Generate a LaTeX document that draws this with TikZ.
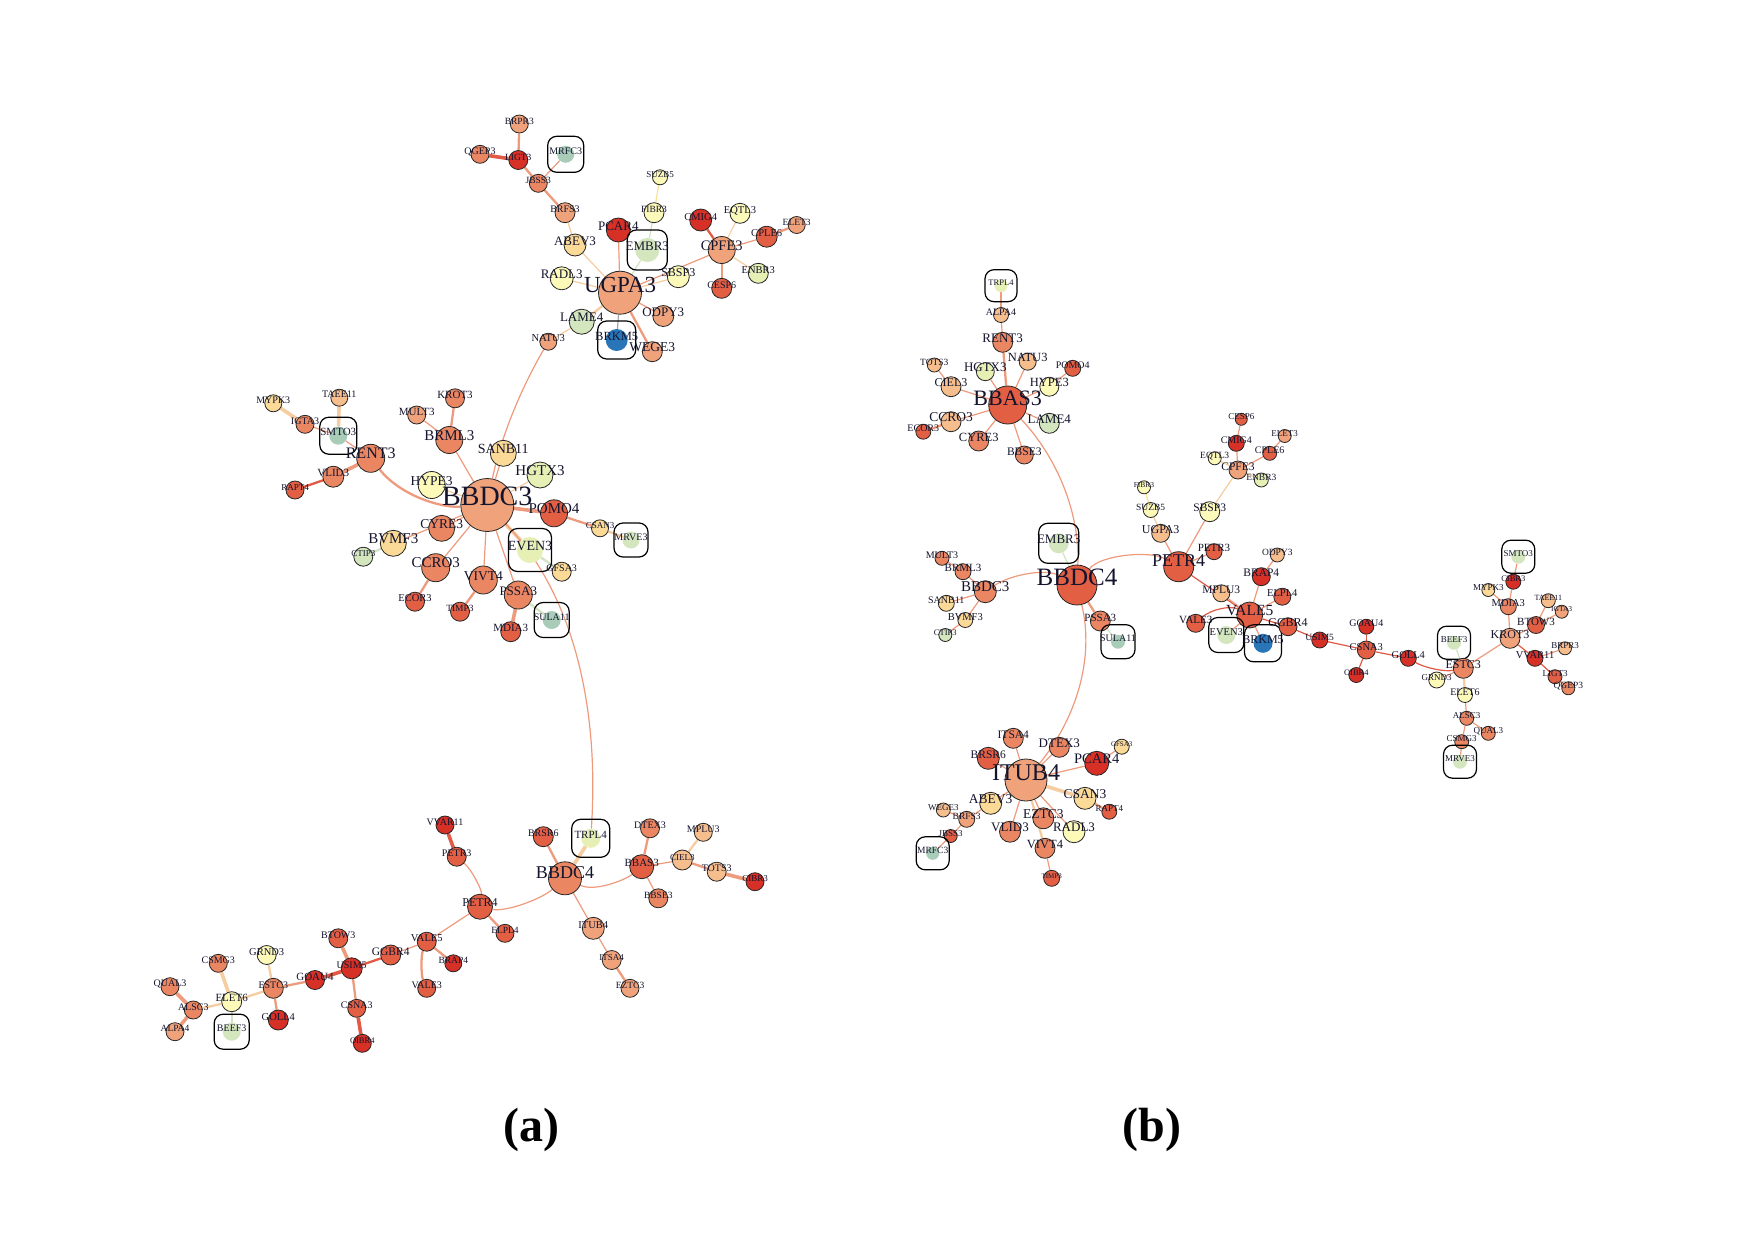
\documentclass[tikz,border=0pt]{standalone}
\usepackage{fontspec}
\setmainfont{Liberation Serif}
\pgfdeclarelayer{bg}\pgfdeclarelayer{fg}
\pgfsetlayers{bg,main,fg}
\definecolor{c1}{RGB}{215,48,39}
\definecolor{c2}{RGB}{227,95,68}
\definecolor{c3}{RGB}{234,135,98}
\definecolor{c4}{RGB}{240,163,122}
\definecolor{c5}{RGB}{245,190,140}
\definecolor{c6}{RGB}{250,218,150}
\definecolor{c7}{RGB}{253,249,185}
\definecolor{c8}{RGB}{230,240,180}
\definecolor{c9}{RGB}{212,230,190}
\definecolor{c10}{RGB}{168,204,184}
\definecolor{cb}{RGB}{40,118,184}
\definecolor{ec}{RGB}{238,155,125}
\definecolor{er}{RGB}{225,90,70}
\definecolor{el}{RGB}{246,205,160}
\definecolor{eg}{RGB}{210,228,195}
\definecolor{txt}{RGB}{20,20,45}
\tikzset{
 nc/.style={circle, draw=black!85, line width=0.8pt, inner sep=0pt},
 bc/.style={circle, inner sep=0pt},
 bxs/.style={rounded corners=9pt, draw=black, line width=1.2pt, inner sep=0pt},
 lab/.style={anchor=base, inner sep=0pt, text=txt, font=\fontsize{#1}{#1}\selectfont},
 e/.style={draw=ec, line width=1.2pt},
 w2/.style={line width=2.3pt},
 w3/.style={line width=3.6pt},
 captxt/.style={font=\fontsize{48}{50}\selectfont\bfseries, inner sep=0pt}
}
\newcommand\gnode[7]{%
 \node[nc, minimum size=2*#4pt, fill=#5] (#1) at (#2,#3) {};
 \begin{pgfonlayer}{fg}\node[lab=#7] (#1-t) at (#1.center) {#6};\end{pgfonlayer}}
\newcommand\gboxnode[8]{%
 \node[bc, minimum size=2*#4pt, fill=#5] (#1) at (#2,#3) {};
 \node[bxs, minimum size=#8pt] (#1-b) at (#2,#3) {};
 \begin{pgfonlayer}{fg}\node[lab=#7] (#1-t) at (#1.center) {#6};\end{pgfonlayer}}
\begin{document}
\begin{tikzpicture}[x=1pt,y=-1pt]
\begin{pgfonlayer}{bg}\fill[white] (0,0) rectangle (1754,1240);\end{pgfonlayer}
\useasboundingbox (0,0) rectangle (1754,1240);
% ================= (a) =================
\gnode{aBRPR3}{519.3}{124}{9}{c4}{BRPR3}{9.5}
\gnode{aQGEP3}{480}{154.3}{9}{c3}{QGEP3}{10}
\gnode{aLIGT3}{518.3}{160}{9.5}{c1}{LIGT3}{9.5}
\gboxnode{aMRFC3}{565.7}{154.3}{8.5}{c10}{MRFC3}{10}{36}
\gnode{aJBSS3}{538.3}{183.3}{9}{c3}{JBSS3}{9.5}
\gnode{aSUZB5}{660}{177.3}{7.5}{c7}{SUZB5}{9}
\gnode{aBRFS3}{565}{212.7}{10}{c4}{BRFS3}{10}
\gnode{aFIBR3}{654}{212.7}{10}{c7}{FIBR3}{9.5}
\gnode{aCMIG4}{700.7}{220}{11}{c1}{CMIG4}{10.5}
\gnode{aEQTL3}{740}{213.3}{10}{c7}{EQTL3}{10.5}
\gnode{aELET3}{796.7}{225}{8.5}{c4}{ELET3}{9.5}
\gnode{aCPLE6}{766.7}{236.7}{10.5}{c2}{CPLE6}{10.5}
\gnode{aPCAR4}{618.3}{230}{12}{c1}{PCAR4}{13}
\gboxnode{aEMBR3}{647.3}{250}{12}{c9}{EMBR3}{13}{40}
\gnode{aABEV3}{575}{245}{11}{c6}{ABEV3}{13}
\gnode{aCPFE3}{721.7}{250}{13.5}{c4}{CPFE3}{14.5}
\gnode{aENBR3}{758.3}{273.3}{10}{c8}{ENBR3}{10.5}
\gnode{aSBSP3}{678.3}{276.7}{11}{c7}{SBSP3}{12}
\gnode{aRADL3}{561.7}{278.3}{11.5}{c7}{RADL3}{13}
\gnode{aUGPA3}{620}{292.7}{21.5}{c4}{UGPA3}{23}
\gnode{aCESP6}{721.7}{288.3}{10}{c2}{CESP6}{10}
\gnode{aODPY3}{663.3}{316}{10.5}{c4}{ODPY3}{13}
\gnode{aLAME4}{581.7}{321.7}{12.5}{c9}{LAME4}{13}
\gnode{aNATU3}{548.3}{341.7}{8.5}{c4}{NATU3}{10.5}
\gboxnode{aBRKM5}{616.7}{340}{11}{cb}{BRKM5}{12.5}{38}
\gnode{aWEGE3}{652.3}{351.7}{10}{c4}{WEGE3}{13.5}
%
\gnode{aMYPK3}{273.3}{403.3}{8.5}{c6}{MYPK3}{10}
\gnode{aTAEE11}{339.3}{397.7}{8.5}{c5}{TAEE11}{10}
\gnode{aIGTA3}{305}{424.3}{9}{c3}{IGTA3}{10}
\gboxnode{aSMTO3}{338.3}{435.7}{9}{c10}{SMTO3}{11}{37}
\gnode{aRENT3}{370.7}{458.3}{14}{c3}{RENT3}{16}
\gnode{aVLID3}{333.3}{476.7}{10.5}{c3}{VLID3}{11}
\gnode{aRAPT4}{295}{490}{9}{c2}{RAPT4}{9}
\gnode{aKROT3}{455}{398.3}{9.5}{c3}{KROT3}{11}
\gnode{aMULT3}{416.7}{415}{9}{c4}{MULT3}{11}
\gnode{aBRML3}{449.3}{440}{13.5}{c3}{BRML3}{15}
\gnode{aSANB11}{503.3}{453.3}{13}{c6}{SANB11}{14}
\gnode{aHGTX3}{540}{475}{13}{c8}{HGTX3}{15}
\gnode{aHYPE3}{431.7}{485}{13.5}{c7}{HYPE3}{13.5}
\gnode{aBBDC3}{487.3}{505}{26.5}{c4}{BBDC3}{28}
\gnode{aPOMO4}{554}{513.3}{13.5}{c2}{POMO4}{15}
\gnode{aCSAN3}{600}{528.3}{8.5}{c6}{CSAN3}{9}
\gboxnode{aMRVE3}{631}{540}{8.5}{c9}{MRVE3}{10}{34}
\gnode{aCYRE3}{441.7}{528.3}{13}{c3}{CYRE3}{13.5}
\gnode{aBVMF3}{393.3}{543.3}{13}{c6}{BVMF3}{15}
\gnode{aCTIP3}{363.3}{556.7}{9.5}{c9}{CTIP3}{9}
\gboxnode{aEVEN3}{530}{550}{13}{c8}{EVEN3}{14}{43}
\gnode{aGFSA3}{561.7}{571.7}{9.5}{c6}{GFSA3}{10}
\gnode{aCCRO3}{435.7}{567.7}{14}{c3}{CCRO3}{15}
\gnode{aVIVT4}{483.3}{580}{14}{c3}{VIVT4}{13.5}
\gnode{aECOR3}{415}{601.7}{9.5}{c2}{ECOR3}{10.5}
\gnode{aTIMP3}{460}{611.7}{9.5}{c2}{TIMP3}{9.5}
\gnode{aPSSA3}{518.3}{595}{14}{c3}{PSSA3}{13}
\gboxnode{aSULA11}{551.7}{620}{9}{c10}{SULA11}{10}{35}
\gnode{aMDIA3}{510.7}{631.7}{10}{c2}{MDIA3}{11}
%
\gnode{aVVAR11}{445}{825}{9}{c1}{VVAR11}{10}
\gnode{aPETR3}{456.7}{856.7}{9.5}{c2}{PETR3}{10}
\gnode{aPETR4}{480}{906.7}{12.5}{c2}{PETR4}{12}
\gnode{aBTOW3}{338.3}{938.3}{9.5}{c2}{BTOW3}{10}
\gnode{aGGBR4}{390.7}{955}{10}{c2}{GGBR4}{11.5}
\gnode{aVALE5}{426.7}{941.7}{9.5}{c2}{VALE5}{10.5}
\gnode{aBRAP4}{453.3}{963.3}{8.5}{c1}{BRAP4}{9.5}
\gnode{aUSIM5}{351.7}{968.3}{10.5}{c1}{USIM5}{10}
\gnode{aGOAU4}{315}{980}{9.5}{c1}{GOAU4}{11}
\gnode{aVALE3}{426.7}{988.3}{9}{c2}{VALE3}{10}
\gnode{aGRND3}{266.7}{955}{9.5}{c7}{GRND3}{10.5}
\gnode{aCSMG3}{218.3}{963.3}{9}{c3}{CSMG3}{10}
\gnode{aESTC3}{273.3}{988.3}{10}{c3}{ESTC3}{10}
\gnode{aGOLL4}{278.3}{1020}{10}{c1}{GOLL4}{10.5}
\gnode{aCSNA3}{356.7}{1008.3}{9}{c2}{CSNA3}{10}
\gnode{aOIBR4}{362.3}{1043.3}{9}{c1}{OIBR4}{8.5}
\gnode{aQUAL3}{170}{986.7}{9}{c3}{QUAL3}{10}
\gnode{aALSC3}{193.3}{1010}{9}{c3}{ALSC3}{10}
\gnode{aALPA4}{175}{1031.7}{9}{c4}{ALPA4}{9.5}
\gnode{aELET6}{231.7}{1001.7}{10}{c7}{ELET6}{11}
\gboxnode{aBEEF3}{231.7}{1031.7}{9}{c9}{BEEF3}{10}{35}
\gnode{aBRSR6}{543.3}{836.7}{10}{c2}{BRSR6}{10}
\gboxnode{aTRPL4}{590.7}{838.3}{9.5}{c8}{TRPL4}{11}{38}
\gnode{aBBDC4}{565}{878.3}{16.5}{c3}{BBDC4}{18}
\gnode{aDTEX3}{650}{828.3}{9.5}{c3}{DTEX3}{10}
\gnode{aMPLU3}{703.3}{832.3}{9}{c5}{MPLU3}{10}
\gnode{aBBAS3}{641.7}{866.7}{12}{c2}{BBAS3}{11}
\gnode{aCIEL3}{682.3}{860}{10}{c5}{CIEL3}{9}
\gnode{aTOTS3}{716.7}{871.7}{9.5}{c5}{TOTS3}{10}
\gnode{aCIBR3}{755}{881.7}{9}{c1}{CIBR3}{9}
\gnode{aBBSE3}{658.3}{898.3}{9.5}{c3}{BBSE3}{9.5}
\gnode{aELPL4}{505}{933.3}{9}{c2}{ELPL4}{9.5}
\gnode{aITUB4}{593.3}{928.3}{11}{c4}{ITUB4}{10.5}
\gnode{aITSA4}{611.7}{960}{9.5}{c4}{ITSA4}{9}
\gnode{aEZTC3}{630}{988.3}{9}{c4}{EZTC3}{9.5}
% ================= (b) =================
\gboxnode{bTRPL4}{1001}{285.7}{6.5}{c8}{TRPL4}{8.5}{32}
\gnode{bALPA4}{1001}{315}{7.5}{c5}{ALPA4}{10}
\gnode{bRENT3}{1002.7}{342.3}{10}{c3}{RENT3}{13}
\gnode{bNATU3}{1027.7}{361.7}{8.5}{c5}{NATU3}{12.5}
\gnode{bPOMO4}{1072.7}{368.3}{8}{c2}{POMO4}{10}
\gnode{bTOTS3}{934.3}{365}{7}{c5}{TOTS3}{9.5}
\gnode{bHGTX3}{985.3}{371.7}{9}{c8}{HGTX3}{13}
\gnode{bCIEL3}{951}{386.7}{10}{c5}{CIEL3}{12}
\gnode{bHYPE3}{1049.3}{386.7}{9.5}{c7}{HYPE3}{12.5}
\gnode{bBBAS3}{1007.7}{405}{19}{c2}{BBAS3}{22}
\gnode{bLAME4}{1049.3}{423.3}{10}{c9}{LAME4}{13}
\gnode{bCCRO3}{951}{421.7}{10}{c5}{CCRO3}{13.5}
\gnode{bECOR3}{923.3}{431.7}{7.5}{c2}{ECOR3}{10}
\gnode{bCYRE3}{978.7}{441}{10}{c3}{CYRE3}{12.5}
\gnode{bBBSE3}{1024.3}{455}{9}{c3}{BBSE3}{11.5}
%
\gnode{bMULT3}{942}{558.3}{7}{c3}{MULT3}{10}
\gnode{bBRML3}{963}{571.7}{8}{c3}{BRML3}{11}
\gnode{bBBDC3}{985.3}{591.7}{11}{c3}{BBDC3}{15}
\gnode{bSANB11}{946.3}{603.3}{8}{c6}{SANB11}{10}
\gnode{bBVMF3}{965.3}{620}{7.5}{c6}{BVMF3}{10.5}
\gnode{bCTIP3}{945.3}{635}{6.5}{c9}{CTIP3}{8.5}
\gboxnode{bEMBR3}{1058.7}{543.3}{10}{c9}{EMBR3}{13}{40}
\gnode{bBBDC4}{1077}{585}{20}{c2}{BBDC4}{25}
\gnode{bPSSA3}{1100.3}{621}{10}{c3}{PSSA3}{11}
\gboxnode{bSULA11}{1118}{641.7}{7}{c10}{SULA11}{10}{34}
%
\gnode{bITSA4}{1013.3}{738.3}{10}{c3}{ITSA4}{11.5}
\gnode{bDTEX3}{1059.3}{747.3}{10}{c3}{DTEX3}{13}
\gnode{bGFSA3}{1121.7}{746.7}{7.5}{c6}{GFSA3}{7}
\gnode{bBRSR6}{988.3}{758.3}{11}{c2}{BRSR6}{11.5}
\gnode{bPCAR4}{1096.7}{763.3}{12}{c1}{PCAR4}{14.5}
\gnode{bITUB4}{1026}{780}{21}{c4}{ITUB4}{24}
\gnode{bABEV3}{990.7}{803.3}{11}{c6}{ABEV3}{13.5}
\gnode{bCSAN3}{1085}{798.3}{11}{c6}{CSAN3}{13.5}
\gnode{bRAPT4}{1109.3}{811.7}{7.5}{c2}{RAPT4}{9}
\gnode{bWEGE3}{943.3}{810}{7}{c5}{WEGE3}{9}
\gnode{bBRFS3}{966.7}{819.3}{8}{c4}{BRFS3}{9.5}
\gnode{bEZTC3}{1043.3}{818.3}{10.5}{c3}{EZTC3}{13.5}
\gnode{bVLID3}{1010}{831.7}{10.5}{c3}{VLID3}{13}
\gnode{bRADL3}{1074}{831.7}{11}{c7}{RADL3}{13}
\gnode{bJBSS3}{950.7}{836}{6.5}{c2}{JBSS3}{9}
\gboxnode{bMRFC3}{932.7}{853.3}{6.5}{c10}{MRFC3}{9.5}{33}
\gnode{bVIVT4}{1045}{848.3}{10}{c3}{VIVT4}{12.5}
\gnode{bTIMP3}{1051.7}{878.3}{8}{c2}{TIMP3}{7}
%
\gnode{bCESP6}{1241.3}{419.3}{6}{c2}{CESP6}{9}
\gnode{bELET3}{1284.7}{436}{6.5}{c4}{ELET3}{9}
\gnode{bCMIG4}{1236.3}{443.3}{8}{c1}{CMIG4}{10}
\gnode{bCPLE6}{1269.7}{453.3}{7}{c2}{CPLE6}{10}
\gnode{bEQTL3}{1214.7}{458.3}{6.5}{c7}{EQTL3}{9.5}
\gnode{bCPFE3}{1238}{470}{9}{c4}{CPFE3}{11.5}
\gnode{bENBR3}{1261.3}{480}{7}{c8}{ENBR3}{9.5}
\gnode{bFIBR3}{1144}{487.3}{6.5}{c7}{FIBR3}{7.5}
\gnode{bSUZB5}{1150.7}{510}{7.5}{c7}{SUZB5}{9.5}
\gnode{bSBSP3}{1209.7}{511.7}{10}{c7}{SBSP3}{11.5}
\gnode{bUGPA3}{1160.7}{533.3}{9}{c5}{UGPA3}{12}
\gnode{bPETR3}{1214}{551.7}{8}{c2}{PETR3}{11}
\gnode{bODPY3}{1277.3}{555}{7}{c5}{ODPY3}{9.5}
\gnode{bPETR4}{1178.7}{566.7}{15}{c2}{PETR4}{18}
\gnode{bBRAP4}{1261.3}{576.7}{9}{c1}{BRAP4}{11.5}
\gnode{bMPLU3}{1221.3}{593.3}{8.5}{c5}{MPLU3}{11.5}
\gnode{bELPL4}{1282.3}{596.7}{8.5}{c2}{ELPL4}{10.5}
\gnode{bVALE5}{1249.7}{615}{13}{c2}{VALE5}{15.5}
\gnode{bVALE3}{1195.7}{623.3}{9}{c2}{VALE3}{11}
\gboxnode{bEVEN3}{1226.3}{635}{9}{c9}{EVEN3}{10.5}{35}
\gboxnode{bBRKM5}{1263}{643.3}{9.5}{cb}{BRKM5}{12}{37}
\gnode{bGGBR4}{1288}{626.7}{9}{c2}{GGBR4}{12}
\gnode{bUSIM5}{1319.7}{640}{8}{c1}{USIM5}{9.5}
\gnode{bGOAU4}{1366.3}{626.7}{7.5}{c1}{GOAU4}{10}
\gnode{bCSNA3}{1366.3}{650}{9}{c2}{CSNA3}{10.5}
\gnode{bOIBR4}{1356.3}{675}{7.5}{c1}{OIBR4}{8.5}
%
\gboxnode{bSMTO3}{1518.3}{556.7}{7}{c9}{SMTO3}{9}{33}
\gnode{bCIBR3}{1513.3}{581.7}{7.5}{c1}{CIBR3}{8.5}
\gnode{bMYPK3}{1488.3}{590}{6.5}{c6}{MYPK3}{9}
\gnode{bMDIA3}{1508.3}{606.7}{8}{c3}{MDIA3}{10.5}
\gnode{bTAEE11}{1548.3}{600.7}{7}{c5}{TAEE11}{8}
\gnode{bIGTA3}{1561.7}{611.7}{6.5}{c4}{IGTA3}{7.5}
\gnode{bBTOW3}{1536}{625}{8.5}{c2}{BTOW3}{11}
\gnode{bKROT3}{1510}{638.3}{10}{c4}{KROT3}{12}
\gnode{bBRPR3}{1565}{648.3}{6.5}{c5}{BRPR3}{9}
\gnode{bVVAR11}{1535}{658.3}{8}{c1}{VVAR11}{10.5}
\gnode{bLIGT3}{1555}{676.7}{7}{c2}{LIGT3}{9}
\gnode{bQGEP3}{1568.3}{688.3}{6.5}{c3}{QGEP3}{9.5}
\gboxnode{bBEEF3}{1454}{642.7}{7}{c9}{BEEF3}{9}{33}
\gnode{bESTC3}{1463.3}{668.3}{10}{c3}{ESTC3}{12}
\gnode{bGOLL4}{1408.3}{658.3}{8}{c1}{GOLL4}{10.5}
\gnode{bGRND3}{1436.7}{680}{8}{c7}{GRND3}{9}
\gnode{bELET6}{1465}{695}{7.5}{c7}{ELET6}{10}
\gnode{bALSC3}{1466.7}{718.3}{7}{c3}{ALSC3}{9}
\gnode{bQUAL3}{1488.3}{733.3}{7}{c3}{QUAL3}{9}
\gnode{bCSMG3}{1461.7}{741.7}{7}{c3}{CSMG3}{9}
\gboxnode{bMRVE3}{1460}{761.7}{7}{c9}{MRVE3}{9}{33}
% captions
\node[captxt] (capa) at (531,1130) {(a)};
\node[captxt] (capb) at (1152,1130) {(b)};
% ================= edges =================
\begin{pgfonlayer}{bg}
% (a) top
\draw[e,w2] (aBRPR3) -- (aLIGT3);
\draw[e,w3,draw=er] (aQGEP3) -- (aLIGT3);
\draw[e,w2] (aLIGT3) -- (aJBSS3);
\draw[e] (aMRFC3) -- (aJBSS3);
\draw[e,w2] (aJBSS3) -- (aBRFS3);
\draw[e,draw=el] (aBRFS3) -- (aABEV3);
\draw[e,draw=el] (aABEV3) -- (aUGPA3);
\draw[e,draw=c7!80!orange] (aSUZB5) -- (aFIBR3);
\draw[e,draw=eg] (aFIBR3) -- (aEMBR3);
\draw[e,draw=eg] (aEMBR3) -- (aUGPA3);
\draw[e] (aPCAR4) -- (aUGPA3);
\draw[e,draw=el] (aRADL3) -- (aUGPA3);
\draw[e,draw=el] (aSBSP3) -- (aUGPA3);
\draw[e] (aUGPA3) -- (aCPFE3);
\draw[e,w2,draw=er] (aCMIG4) -- (aCPFE3);
\draw[e,draw=el] (aEQTL3) -- (aCPFE3);
\draw[e] (aCPLE6) -- (aCPFE3);
\draw[e,w2] (aELET3) -- (aCPLE6);
\draw[e,draw=el] (aENBR3) -- (aCPFE3);
\draw[e,w2] (aCESP6) -- (aCPFE3);
\draw[e] (aUGPA3) -- (aODPY3);
\draw[e,w2] (aUGPA3) -- (aWEGE3);
\draw[e,draw=gray!70] (aUGPA3) -- (aBRKM5);
\draw[e,w2,draw=el] (aUGPA3) -- (aLAME4);
\draw[e,draw=el] (aLAME4) -- (aNATU3);
\draw[e] (aNATU3) .. controls (520,390) and (500,440) .. (aBBDC3);
% (a) middle
\draw[e,w3,draw=el] (aMYPK3) -- (aIGTA3);
\draw[e] (aIGTA3) -- (aSMTO3);
\draw[e,w3,draw=el] (aTAEE11) -- (aSMTO3);
\draw[e] (aSMTO3) -- (aRENT3);
\draw[e,w3] (aRENT3) -- (aVLID3);
\draw[e,w2,draw=er] (aVLID3) -- (aRAPT4);
\draw[e,w2] (aRENT3) .. controls (400,495) and (440,508) .. (aBBDC3);
\draw[e,w2] (aKROT3) -- (aBRML3);
\draw[e] (aMULT3) -- (aBRML3);
\draw[e] (aBRML3) -- (aBBDC3);
\draw[e] (aSANB11) -- (aBBDC3);
\draw[e,draw=el] (aHGTX3) -- (aBBDC3);
\draw[e,draw=el] (aHYPE3) -- (aBBDC3);
\draw[e,w3] (aBBDC3) -- (aPOMO4);
\draw[e,w2] (aPOMO4) -- (aCSAN3);
\draw[e,w2,draw=el] (aCSAN3) -- (aMRVE3);
\draw[e] (aCYRE3) -- (aBBDC3);
\draw[e] (aBVMF3) -- (aBBDC3);
\draw[e,w2,draw=eg] (aCTIP3) -- (aBVMF3);
\draw[e] (aCCRO3) -- (aBBDC3);
\draw[e,w2] (aCCRO3) -- (aECOR3);
\draw[e] (aVIVT4) -- (aBBDC3);
\draw[e,w2] (aTIMP3) -- (aVIVT4);
\draw[e] (aPSSA3) -- (aBBDC3);
\draw[e,w3] (aPSSA3) -- (aMDIA3);
\draw[e,w2,draw=eg] (aPSSA3) -- (aSULA11);
\draw[e,w3,draw=el] (aEVEN3) -- (aBBDC3);
\draw[e,w2,draw=eg] (aEVEN3) -- (aGFSA3);
\draw[e] (aBBDC3) .. controls (570,590) and (600,700) .. (aTRPL4);
% (a) bottom
\draw[e,w3,draw=el] (aTRPL4) -- (aBBDC4);
\draw[e,w2] (aBRSR6) -- (aBBDC4);
\draw[e] (aBBDC4) .. controls (595,892) and (625,880) .. (aBBAS3);
\draw[e,w2] (aBBAS3) -- (aDTEX3);
\draw[e] (aBBAS3) -- (aCIEL3);
\draw[e,w2,draw=el] (aCIEL3) -- (aMPLU3);
\draw[e,w2] (aCIEL3) -- (aTOTS3);
\draw[e,w3] (aTOTS3) -- (aCIBR3);
\draw[e] (aBBAS3) -- (aBBSE3);
\draw[e] (aBBDC4) .. controls (540,900) and (505,912) .. (aPETR4);
\draw[e] (aBBDC4) -- (aITUB4);
\draw[e] (aITUB4) -- (aITSA4);
\draw[e,w2] (aITSA4) -- (aEZTC3);
\draw[e,w2] (aPETR4) -- (aELPL4);
\draw[e] (aPETR4) -- (aVALE5);
\draw[e] (aPETR3) .. controls (472,870) and (482,890) .. (aPETR4);
\draw[e,w3,draw=er] (aVVAR11) -- (aPETR3);
\draw[e] (aVALE5) -- (aGGBR4);
\draw[e,w2] (aVALE5) -- (aBRAP4);
\draw[e,w2] (aVALE5) .. controls (421,955) and (421,975) .. (aVALE3);
\draw[e,w2,draw=er] (aGGBR4) -- (aUSIM5);
\draw[e,w3] (aUSIM5) -- (aBTOW3);
\draw[e,w3,draw=er] (aUSIM5) -- (aGOAU4);
\draw[e,w2] (aUSIM5) -- (aCSNA3);
\draw[e,w3,draw=er] (aCSNA3) -- (aOIBR4);
\draw[e,w2] (aGOAU4) -- (aESTC3);
\draw[e,w2,draw=el] (aESTC3) -- (aGRND3);
\draw[e,w2] (aESTC3) -- (aGOLL4);
\draw[e,w2,draw=el] (aESTC3) -- (aELET6);
\draw[e,w3,draw=el] (aELET6) -- (aCSMG3);
\draw[e,w2,draw=eg] (aELET6) -- (aBEEF3);
\draw[e,w2,draw=el] (aELET6) -- (aALSC3);
\draw[e,w3] (aALSC3) -- (aQUAL3);
\draw[e,w3] (aALSC3) -- (aALPA4);
% (b) BBAS3
\draw[e] (bTRPL4) -- (bALPA4);
\draw[e] (bALPA4) -- (bRENT3);
\draw[e,w2] (bRENT3) -- (bBBAS3);
\draw[e] (bNATU3) -- (bBBAS3);
\draw[e] (bHGTX3) -- (bBBAS3);
\draw[e] (bHYPE3) -- (bBBAS3);
\draw[e] (bPOMO4) -- (bHYPE3);
\draw[e] (bCIEL3) -- (bBBAS3);
\draw[e] (bTOTS3) -- (bCIEL3);
\draw[e] (bCCRO3) -- (bBBAS3);
\draw[e,w2] (bECOR3) -- (bCCRO3);
\draw[e] (bCYRE3) -- (bBBAS3);
\draw[e] (bBBSE3) -- (bBBAS3);
\draw[e] (bLAME4) -- (bBBAS3);
\draw[e] (bBBAS3) .. controls (1055,455) and (1080,510) .. (bBBDC4);
% (b) BBDC4
\draw[e] (bMULT3) -- (bBRML3);
\draw[e] (bBRML3) -- (bBBDC3);
\draw[e] (bSANB11) -- (bBBDC3);
\draw[e] (bBVMF3) -- (bBBDC3);
\draw[e] (bCTIP3) -- (bBVMF3);
\draw[e] (bBBDC3) .. controls (1010,575) and (1045,568) .. (bBBDC4);
\draw[e,draw=eg] (bEMBR3) -- (bBBDC4);
\draw[e,w2] (bPSSA3) -- (bBBDC4);
\draw[e,draw=eg] (bPSSA3) -- (bSULA11);
\draw[e] (bBBDC4) .. controls (1095,660) and (1075,720) .. (bITUB4);
\draw[e] (bBBDC4) .. controls (1100,555) and (1150,550) .. (bPETR4);
% (b) ITUB4
\draw[e] (bITSA4) -- (bITUB4);
\draw[e] (bDTEX3) -- (bITUB4);
\draw[e] (bBRSR6) -- (bITUB4);
\draw[e] (bPCAR4) -- (bITUB4);
\draw[e] (bGFSA3) -- (bPCAR4);
\draw[e] (bABEV3) -- (bITUB4);
\draw[e,w3,draw=el] (bCSAN3) -- (bITUB4);
\draw[e,w2] (bCSAN3) -- (bRAPT4);
\draw[e] (bEZTC3) -- (bITUB4);
\draw[e] (bVLID3) -- (bITUB4);
\draw[e] (bRADL3) -- (bITUB4);
\draw[e,w2,draw=el] (bVIVT4) -- (bITUB4);
\draw[e] (bTIMP3) -- (bVIVT4);
\draw[e] (bBRFS3) -- (bABEV3);
\draw[e] (bWEGE3) -- (bBRFS3);
\draw[e] (bJBSS3) -- (bBRFS3);
\draw[e] (bMRFC3) -- (bJBSS3);
% (b) PETR4 / VALE5
\draw[e] (bCESP6) -- (bCMIG4);
\draw[e] (bCMIG4) -- (bCPFE3);
\draw[e,draw=el] (bEQTL3) -- (bCPFE3);
\draw[e] (bCPLE6) -- (bCPFE3);
\draw[e] (bELET3) -- (bCPLE6);
\draw[e,draw=el] (bENBR3) -- (bCPFE3);
\draw[e,draw=el] (bCPFE3) -- (bSBSP3);
\draw[e] (bSBSP3) -- (bPETR4);
\draw[e,draw=c7!80!orange] (bFIBR3) -- (bSUZB5);
\draw[e,draw=el] (bSUZB5) -- (bUGPA3);
\draw[e] (bUGPA3) -- (bPETR4);
\draw[e] (bPETR3) -- (bPETR4);
\draw[e,draw=er] (bPETR4) -- (bVALE5);
\draw[e] (bBRAP4) -- (bVALE5);
\draw[e] (bODPY3) -- (bBRAP4);
\draw[e] (bMPLU3) -- (bVALE5);
\draw[e] (bELPL4) -- (bVALE5);
\draw[e,draw=er] (bVALE3) .. controls (1210,610) and (1230,605) .. (bVALE5);
\draw[e] (bEVEN3) -- (bVALE5);
\draw[e] (bBRKM5) -- (bVALE5);
\draw[e,draw=er] (bGGBR4) -- (bVALE5);
\draw[e,draw=er] (bGGBR4) -- (bUSIM5);
\draw[e,draw=er] (bUSIM5) -- (bCSNA3);
\draw[e,draw=er] (bGOAU4) -- (bCSNA3);
\draw[e,draw=er] (bOIBR4) -- (bCSNA3);
\draw[e,draw=er] (bCSNA3) -- (bGOLL4);
% (b) right
\draw[e,draw=er] (bGOLL4) .. controls (1425,668) and (1445,672) .. (bESTC3);
\draw[e] (bGRND3) -- (bESTC3);
\draw[e,draw=eg] (bBEEF3) -- (bESTC3);
\draw[e,w2,draw=el] (bESTC3) -- (bELET6);
\draw[e] (bELET6) -- (bALSC3);
\draw[e] (bALSC3) -- (bQUAL3);
\draw[e] (bALSC3) -- (bCSMG3);
\draw[e] (bCSMG3) -- (bMRVE3);
\draw[e] (bKROT3) -- (bESTC3);
\draw[e] (bKROT3) -- (bMDIA3);
\draw[e] (bMDIA3) -- (bCIBR3);
\draw[e] (bCIBR3) -- (bSMTO3);
\draw[e] (bMYPK3) -- (bMDIA3);
\draw[e] (bKROT3) -- (bBTOW3);
\draw[e] (bBTOW3) -- (bTAEE11);
\draw[e] (bBTOW3) -- (bIGTA3);
\draw[e,draw=er] (bKROT3) -- (bVVAR11);
\draw[e] (bVVAR11) -- (bBRPR3);
\draw[e,draw=er] (bVVAR11) -- (bLIGT3);
\draw[e,w2] (bLIGT3) -- (bQGEP3);
\end{pgfonlayer}
\end{tikzpicture}
\end{document}
